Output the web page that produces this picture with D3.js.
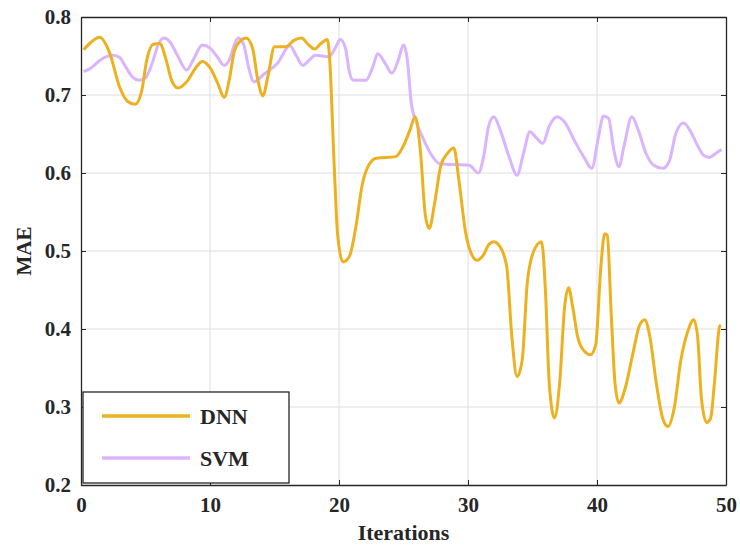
<!DOCTYPE html>
<html>
<head>
<meta charset="utf-8">
<script src="https://cdn.jsdelivr.net/npm/d3@7"></script>
<style>
  body { margin: 0; background: #fff; }
  text { font-family: "Liberation Serif", "Times New Roman", serif; font-weight: bold; fill: #262626; }
</style>
</head>
<body>
<div id="chart"></div>
<script>
// DNN key points (iteration, MAE)
const dnnIter = [0.2, 0.8, 1.45, 2.2, 3.0, 3.6, 4.2, 4.7, 5.1, 5.6, 6.1, 6.6, 7.0, 7.5, 8.2, 8.9, 9.4, 10.0, 10.6, 11.1,
  11.5, 11.9, 12.4, 12.8, 13.3, 13.7, 14.1, 14.5, 15.0, 15.9, 16.5, 17.1, 17.6, 18.1, 18.6, 19.1, 19.3, 19.6, 19.9, 20.3,
  20.8, 21.3, 21.8, 22.3, 22.9, 24.4, 25.0, 25.5, 25.9, 26.3, 26.7, 27.0, 27.4, 27.9, 28.4, 28.9, 29.3, 29.8, 30.3, 30.7,
  31.2, 31.6, 32.0, 32.5, 33.0, 33.4, 33.8, 34.2, 34.6, 35.1, 35.7, 36.0, 36.3, 36.7, 37.1, 37.5, 37.8, 38.1, 38.5, 39.0,
  39.5, 39.9, 40.3, 40.6, 40.8, 41.1, 41.4, 41.7, 42.2, 42.8, 43.3, 43.7, 44.1, 44.6, 45.1, 45.5, 46.0, 46.5, 47.0, 47.5,
  47.8, 48.1, 48.5, 48.8, 49.1, 49.5, 49.6];
const dnnMae = [0.758, 0.768, 0.774, 0.755, 0.71, 0.692, 0.688, 0.705, 0.745, 0.765, 0.766, 0.745, 0.72, 0.709, 0.717, 0.735, 0.743, 0.735, 0.715, 0.697,
  0.72, 0.757, 0.77, 0.773, 0.76, 0.72, 0.699, 0.725, 0.762, 0.762, 0.77, 0.773, 0.765, 0.759, 0.766, 0.771, 0.74, 0.62, 0.52, 0.486,
  0.493, 0.53, 0.585, 0.61, 0.619, 0.621, 0.635, 0.655, 0.672, 0.63, 0.545, 0.529, 0.56, 0.61, 0.625, 0.632, 0.59, 0.525, 0.495, 0.488,
  0.495, 0.508, 0.512, 0.505, 0.48, 0.39, 0.339, 0.36, 0.46, 0.5, 0.512, 0.45, 0.33, 0.286, 0.33, 0.43, 0.453, 0.43, 0.39, 0.372,
  0.367, 0.38, 0.48, 0.522, 0.52, 0.42, 0.33, 0.305, 0.325, 0.37, 0.405, 0.412, 0.39, 0.33, 0.285, 0.275, 0.3, 0.36, 0.395, 0.412,
  0.39, 0.31, 0.28, 0.285, 0.33, 0.403, 0.405];

// SVM key points (iteration, MAE)
const svmIter = [0.2, 0.8, 1.5, 2.5, 3.0, 3.5, 4.0, 4.5, 5.0, 5.5, 6.0, 6.4, 6.9, 7.5, 8.2, 8.7, 9.4, 10.0, 10.6, 11.1,
  11.5, 11.9, 12.2, 12.6, 13.0, 13.4, 14.2, 15.2, 16.2, 16.7, 17.2, 17.7, 18.2, 19.2, 19.7, 20.1, 20.5, 20.8, 21.1, 22.1,
  22.6, 23.0, 23.6, 24.1, 24.6, 25.0, 25.3, 25.6, 26.0, 26.5, 27.1, 27.8, 30.1, 30.8, 31.2, 31.6, 32.0, 32.5, 33.2, 33.8,
  34.3, 34.8, 35.3, 35.8, 36.3, 36.9, 37.5, 38.3, 39.0, 39.6, 40.1, 40.5, 40.9, 41.3, 41.7, 42.1, 42.7, 43.2, 43.8, 44.4,
  45.1, 45.6, 46.1, 46.7, 47.3, 47.8, 48.3, 48.7, 49.2, 49.65];
const svmMae = [0.73, 0.735, 0.745, 0.751, 0.748, 0.735, 0.723, 0.719, 0.722, 0.74, 0.765, 0.773, 0.768, 0.75, 0.732, 0.745, 0.764, 0.76, 0.748, 0.738,
  0.745, 0.765, 0.773, 0.765, 0.735, 0.717, 0.727, 0.74, 0.763, 0.75, 0.738, 0.745, 0.751, 0.749, 0.76, 0.771, 0.76, 0.73, 0.719, 0.719,
  0.735, 0.753, 0.74, 0.728, 0.745, 0.764, 0.745, 0.69, 0.665, 0.645, 0.625, 0.612, 0.61, 0.6, 0.62, 0.66, 0.672, 0.655, 0.62, 0.597,
  0.625, 0.653, 0.645, 0.638, 0.66, 0.672, 0.665, 0.64, 0.62, 0.606, 0.645, 0.673, 0.67, 0.63, 0.608, 0.635, 0.672, 0.655, 0.625, 0.61,
  0.606, 0.615, 0.65, 0.664, 0.652, 0.635, 0.622, 0.62, 0.625, 0.63];

const xTicks = [0, 10, 20, 30, 40, 50];
const yTicks = [0.2, 0.3, 0.4, 0.5, 0.6, 0.7, 0.8];
const seriesNames = ["DNN", "SVM"];
const seriesColors = ["#EDB120", "#DAB4FF"];

const W = 740, H = 546;
const margin = { top: 17, right: 14, bottom: 61, left: 81 },
      width = W - margin.left - margin.right,
      height = H - margin.top - margin.bottom;

const svg = d3.select("#chart").append("svg")
  .attr("width", W).attr("height", H)
  .append("g")
  .attr("transform", `translate(${margin.left},${margin.top})`);

const x = d3.scaleLinear().domain([0, 50]).range([0, width]);
const y = d3.scaleLinear().domain([0.2, 0.8]).range([height, 0]);

// grid
svg.append("g").selectAll("line").data(xTicks.slice(1, -1)).join("line")
  .attr("x1", d => x(d)).attr("x2", d => x(d)).attr("y1", 0).attr("y2", height)
  .attr("stroke", "#dedede").attr("stroke-width", 1);
svg.append("g").selectAll("line").data(yTicks.slice(1, -1)).join("line")
  .attr("y1", d => y(d)).attr("y2", d => y(d)).attr("x1", 0).attr("x2", width)
  .attr("stroke", "#dedede").attr("stroke-width", 1);

// lines
const series = [
  dnnIter.map((t, i) => [t, dnnMae[i]]),
  svmIter.map((t, i) => [t, svmMae[i]])
];
const line = d3.line().x(d => x(d[0])).y(d => y(d[1])).curve(d3.curveMonotoneX);
// SVM first, DNN on top
[1, 0].forEach(k => {
  svg.append("path").datum(series[k])
    .attr("fill", "none")
    .attr("stroke", seriesColors[k])
    .attr("stroke-width", 3)
    .attr("stroke-linejoin", "round")
    .attr("d", line);
});

// axes
const fontSize = "21px";
const xAxis = svg.append("g").attr("transform", `translate(0,${height})`)
  .call(d3.axisBottom(x).tickValues(xTicks).tickSizeInner(-5).tickSizeOuter(0).tickPadding(12));
const xTop = svg.append("g")
  .call(d3.axisTop(x).tickValues(xTicks).tickSizeInner(-5).tickSizeOuter(0).tickFormat(""));
const yAxis = svg.append("g")
  .call(d3.axisLeft(y).tickValues(yTicks).tickSizeInner(-5).tickSizeOuter(0).tickPadding(10).tickFormat(d3.format(".1f")));
const yRight = svg.append("g").attr("transform", `translate(${width},0)`)
  .call(d3.axisRight(y).tickValues(yTicks).tickSizeInner(-5).tickSizeOuter(0).tickFormat(""));
[xAxis, xTop, yAxis, yRight].forEach(g => {
  g.select(".domain").attr("stroke", "#262626").attr("stroke-width", 1.3);
  g.selectAll(".tick line").attr("stroke", "#262626");
  g.selectAll(".tick text").style("font-size", fontSize).attr("fill", "#262626");
});

svg.append("text")
  .attr("x", width / 2).attr("y", height + 55)
  .attr("text-anchor", "middle").style("font-size", "22px")
  .text("Iterations");
svg.append("text")
  .attr("transform", "rotate(-90)")
  .attr("x", -height / 2).attr("y", -50)
  .attr("text-anchor", "middle").style("font-size", "21px")
  .text("MAE");

// legend
const legend = svg.append("g").attr("transform", "translate(2,375)");
legend.append("rect")
  .attr("width", 206).attr("height", 91)
  .attr("fill", "#fff").attr("stroke", "#262626").attr("stroke-width", 1.3);
seriesNames.forEach((name, i) => {
  const ly = 24 + i * 42;
  legend.append("line")
    .attr("x1", 19).attr("x2", 107).attr("y1", ly).attr("y2", ly)
    .attr("stroke", seriesColors[i]).attr("stroke-width", 3.5);
  legend.append("text")
    .attr("x", 117).attr("y", ly + 8)
    .style("font-size", "22px")
    .text(name);
});
</script>
</body>
</html>
